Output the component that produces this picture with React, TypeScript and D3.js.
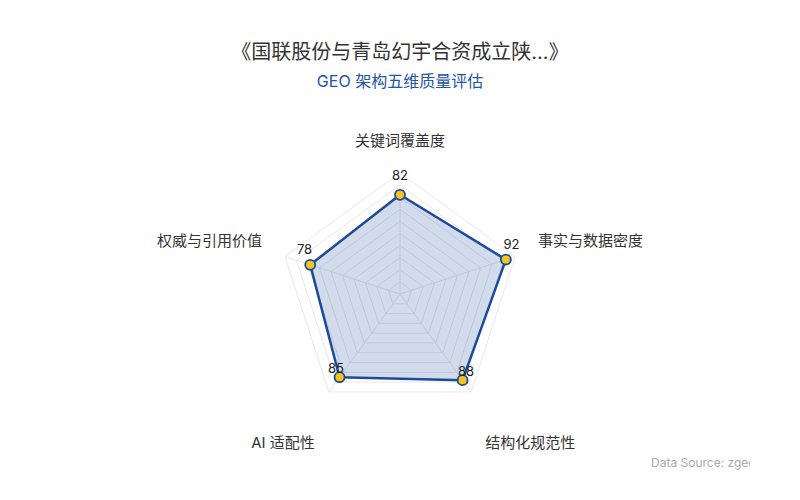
import React, { useEffect, useRef } from 'react';
import * as d3 from 'd3';

// datos del radar
const indicators = ['关键词覆盖度', '事实与数据密度', '结构化规范性', 'AI 适配性', '权威与引用价值'];
const scores = [82, 92, 88, 85, 78];
const maxScore = 100;
const splitCount = 10;

const titleText = '《国联股份与青岛幻宇合资成立陕...》';
const subtitleText = 'GEO 架构五维质量评估';
const sourceText = 'Data Source: zgeo.ai';

const App: React.FC = () => {
    const chartRef = useRef<SVGSVGElement>(null);

    useEffect(() => {
        const width = 800;
        const height = 500;
        const cx = 400;
        const cy = 294;
        const radius = 121;
        const font = 'Inter, "Noto Sans CJK SC", "Noto Sans", sans-serif';

        const svg = d3.select(chartRef.current).attr('width', width).attr('height', height);
        svg.selectAll('*').remove();

        const rScale = d3.scaleLinear().domain([0, maxScore]).range([0, radius]);
        const angle = d3.scalePoint<string>()
            .domain(indicators)
            .range([0, (2 * Math.PI * (indicators.length - 1)) / indicators.length]);

        // punto en coordenadas cartesianas (0 rad = arriba, sentido horario)
        const pt = (name: string, r: number): [number, number] => {
            const a = angle(name) || 0;
            return [cx + r * Math.sin(a), cy - r * Math.cos(a)];
        };

        const g = svg.append('g');

        // anillos de la rejilla
        const levels = d3.range(1, splitCount + 1).map((i) => (maxScore * i) / splitCount);
        g.selectAll('polygon.ring')
            .data(levels)
            .enter()
            .append('polygon')
            .attr('class', 'ring')
            .attr('points', (v) => indicators.map((n) => pt(n, rScale(v)).join(',')).join(' '))
            .attr('fill', 'none')
            .attr('stroke', '#e8e8e8')
            .attr('stroke-width', 1);

        // ejes
        g.selectAll('line.axis')
            .data(indicators)
            .enter()
            .append('line')
            .attr('class', 'axis')
            .attr('x1', cx)
            .attr('y1', cy)
            .attr('x2', (n) => pt(n, radius)[0])
            .attr('y2', (n) => pt(n, radius)[1])
            .attr('stroke', '#e8e8e8')
            .attr('stroke-width', 1);

        // área de la serie
        const line = d3.lineRadial<number>()
            .angle((_, i) => angle(indicators[i]) || 0)
            .radius((d) => rScale(d))
            .curve(d3.curveLinearClosed);

        g.append('path')
            .attr('transform', `translate(${cx},${cy})`)
            .attr('d', line(scores))
            .attr('fill', 'rgba(30, 74, 154, 0.2)')
            .attr('stroke', '#1e4a9a')
            .attr('stroke-width', 2.5)
            .attr('stroke-linejoin', 'round');

        // puntos
        g.selectAll('circle.dot')
            .data(scores)
            .enter()
            .append('circle')
            .attr('class', 'dot')
            .attr('cx', (d, i) => pt(indicators[i], rScale(d))[0])
            .attr('cy', (d, i) => pt(indicators[i], rScale(d))[1])
            .attr('r', 5)
            .attr('fill', '#f5c518')
            .attr('stroke', '#1e4a9a')
            .attr('stroke-width', 1.8);

        // etiquetas de valor
        g.selectAll('text.value')
            .data(scores)
            .enter()
            .append('text')
            .attr('class', 'value')
            .attr('x', (d, i) => {
                const a = angle(indicators[i]) || 0;
                return pt(indicators[i], rScale(d))[0] + 6 * Math.sin(a);
            })
            .attr('y', (d, i) => {
                const a = angle(indicators[i]) || 0;
                return pt(indicators[i], rScale(d))[1] - 6 * Math.cos(a) - 14;
            })
            .attr('text-anchor', 'middle')
            .attr('dominant-baseline', 'central')
            .style('font-family', font)
            .style('font-size', '13px')
            .attr('fill', '#222')
            .text((d) => d);

        // nombres de los indicadores
        const nameRadius = radius + 24;
        g.selectAll('text.name')
            .data(indicators)
            .enter()
            .append('text')
            .attr('class', 'name')
            .attr('x', (n) => pt(n, nameRadius)[0])
            .attr('y', (n) => {
                const a = angle(n) || 0;
                const c = Math.cos(a);
                return pt(n, nameRadius)[1] + (c < -0.1 ? 31 : -9);
            })
            .attr('text-anchor', (n) => {
                const s = Math.sin(angle(n) || 0);
                return s > 0.1 ? 'start' : s < -0.1 ? 'end' : 'middle';
            })
            .attr('dominant-baseline', 'central')
            .style('font-family', font)
            .style('font-size', '15px')
            .attr('fill', '#333')
            .text((n) => n);

        // títulos
        svg.append('text')
            .attr('x', width / 2)
            .attr('y', 52)
            .attr('text-anchor', 'middle')
            .attr('dominant-baseline', 'central')
            .style('font-family', font)
            .style('font-size', '20px')
            .attr('fill', '#333')
            .text(titleText);

        svg.append('text')
            .attr('x', width / 2)
            .attr('y', 81)
            .attr('text-anchor', 'middle')
            .attr('dominant-baseline', 'central')
            .style('font-family', font)
            .style('font-size', '16px')
            .attr('fill', '#2355a8')
            .text(subtitleText);

        // fuente (recortada a la derecha)
        svg.append('clipPath')
            .attr('id', 'src-clip')
            .append('rect')
            .attr('x', 0)
            .attr('y', 0)
            .attr('width', 750)
            .attr('height', height);

        svg.append('text')
            .attr('x', 651)
            .attr('y', 462)
            .attr('clip-path', 'url(#src-clip)')
            .attr('dominant-baseline', 'central')
            .style('font-family', font)
            .style('font-size', '12px')
            .attr('fill', '#aaa')
            .text(sourceText);
    }, []);

    return <svg ref={chartRef} style={{ position: 'absolute', left: 0, top: 0, background: '#fff' }}></svg>;
};

export default App;
